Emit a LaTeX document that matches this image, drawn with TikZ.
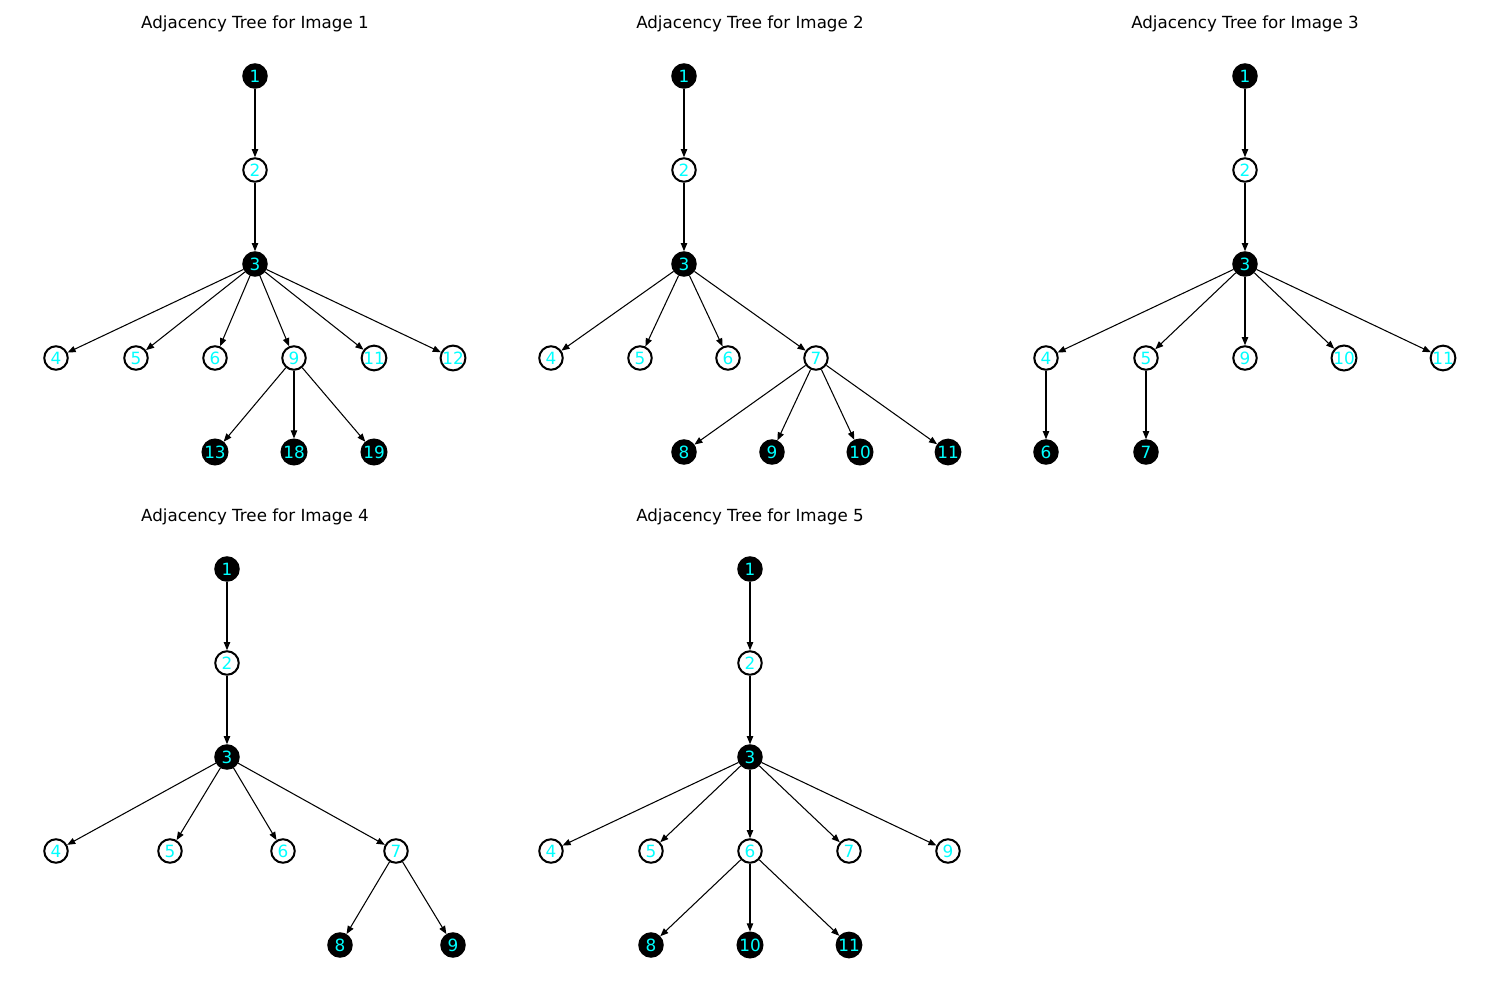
\documentclass[tikz,border=0pt]{standalone}
\usepackage{fontspec}
\setmainfont{DejaVu Sans}
\usetikzlibrary{arrows.meta}
\definecolor{labelcyan}{RGB}{0,255,255}
\begin{document}
\begin{tikzpicture}[x=0.02cm,y=-0.02cm,
  vtx/.style={circle,draw=black,line width=1.15pt,minimum size=0.47cm,inner sep=0pt,
    font=\fontsize{9.6pt}{10pt}\selectfont,text=labelcyan},
  dark/.style={vtx,fill=black},
  light/.style={vtx,fill=white},
  edge/.style={-{Triangle[length=4.6pt,width=3.6pt]},line width=0.6pt,black},
  ttl/.style={font=\fontsize{9.5pt}{10pt}\selectfont,text=black}]
\useasboundingbox (0,0) rectangle (1500,1000);

% ---- Tree 1 ----
\node[ttl] (t1) at (255,24) {Adjacency Tree for Image 1};
\node[dark]  (a1)  at (255,76)  {1};
\node[light] (a2)  at (255,170) {2};
\node[dark]  (a3)  at (255,264) {3};
\node[light] (a4)  at (56,358)  {4};
\node[light] (a5)  at (136,358) {5};
\node[light] (a6)  at (215,358) {6};
\node[light] (a9)  at (294,358) {9};
\node[light] (a11) at (374,358) {11};
\node[light] (a12) at (453,358) {12};
\node[dark]  (a13) at (215,452) {13};
\node[dark]  (a18) at (294,452) {18};
\node[dark]  (a19) at (374,452) {19};
\foreach \u/\v in {a1/a2,a2/a3,a3/a4,a3/a5,a3/a6,a3/a9,a3/a11,a3/a12,a9/a13,a9/a18,a9/a19}
  \draw[edge] (\u) -- (\v);

% ---- Tree 2 ----
\node[ttl] (t2) at (750,24) {Adjacency Tree for Image 2};
\node[dark]  (b1)  at (684,76)  {1};
\node[light] (b2)  at (684,170) {2};
\node[dark]  (b3)  at (684,264) {3};
\node[light] (b4)  at (551,358) {4};
\node[light] (b5)  at (640,358) {5};
\node[light] (b6)  at (728,358) {6};
\node[light] (b7)  at (816,358) {7};
\node[dark]  (b8)  at (684,452) {8};
\node[dark]  (b9)  at (772,452) {9};
\node[dark]  (b10) at (860,452) {10};
\node[dark]  (b11) at (948,452) {11};
\foreach \u/\v in {b1/b2,b2/b3,b3/b4,b3/b5,b3/b6,b3/b7,b7/b8,b7/b9,b7/b10,b7/b11}
  \draw[edge] (\u) -- (\v);

% ---- Tree 3 ----
\node[ttl] (t3) at (1245,24) {Adjacency Tree for Image 3};
\node[dark]  (c1)  at (1245,76)  {1};
\node[light] (c2)  at (1245,170) {2};
\node[dark]  (c3)  at (1245,264) {3};
\node[light] (c4)  at (1046,358) {4};
\node[light] (c5)  at (1146,358) {5};
\node[light] (c9)  at (1245,358) {9};
\node[light] (c10) at (1344,358) {10};
\node[light] (c11) at (1443,358) {11};
\node[dark]  (c6)  at (1046,452) {6};
\node[dark]  (c7)  at (1146,452) {7};
\foreach \u/\v in {c1/c2,c2/c3,c3/c4,c3/c5,c3/c9,c3/c10,c3/c11,c4/c6,c5/c7}
  \draw[edge] (\u) -- (\v);

% ---- Tree 4 ----
\node[ttl] (t4) at (255,517) {Adjacency Tree for Image 4};
\node[dark]  (d1) at (227,569) {1};
\node[light] (d2) at (227,663) {2};
\node[dark]  (d3) at (227,757) {3};
\node[light] (d4) at (56,851)  {4};
\node[light] (d5) at (170,851) {5};
\node[light] (d6) at (283,851) {6};
\node[light] (d7) at (396,851) {7};
\node[dark]  (d8) at (340,945) {8};
\node[dark]  (d9) at (453,945) {9};
\foreach \u/\v in {d1/d2,d2/d3,d3/d4,d3/d5,d3/d6,d3/d7,d7/d8,d7/d9}
  \draw[edge] (\u) -- (\v);

% ---- Tree 5 ----
\node[ttl] (t5) at (750,517) {Adjacency Tree for Image 5};
\node[dark]  (e1)  at (750,569) {1};
\node[light] (e2)  at (750,663) {2};
\node[dark]  (e3)  at (750,757) {3};
\node[light] (e4)  at (551,851) {4};
\node[light] (e5)  at (651,851) {5};
\node[light] (e6)  at (750,851) {6};
\node[light] (e7)  at (849,851) {7};
\node[light] (e9)  at (948,851) {9};
\node[dark]  (e8)  at (651,945) {8};
\node[dark]  (e10) at (750,945) {10};
\node[dark]  (e11) at (849,945) {11};
\foreach \u/\v in {e1/e2,e2/e3,e3/e4,e3/e5,e3/e6,e3/e7,e3/e9,e6/e8,e6/e10,e6/e11}
  \draw[edge] (\u) -- (\v);
\end{tikzpicture}
\end{document}
